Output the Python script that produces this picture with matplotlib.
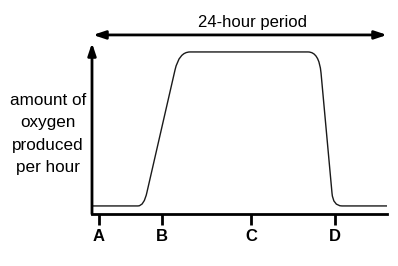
import matplotlib
matplotlib.use('Agg')
import matplotlib.pyplot as plt
from matplotlib.path import Path
from matplotlib.patches import PathPatch

plt.rcParams['font.family'] = ['Liberation Sans', 'DejaVu Sans']

# curve outline: hours vs oxygen (arbitrary units), with rounded corners
hours = [0, 3.73, 4.22, 4.46, 6.73, 7.06, 7.95, 17.52, 18.41, 18.57, 19.46, 19.54, 20.27, 23.92]
oxygen = [0.45, 0.45, 0.45, 1.23, 8.04, 9.05, 9.05, 9.05, 9.05, 7.88, 1.17, 0.45, 0.45, 0.45]
codes = [Path.MOVETO, Path.LINETO, Path.CURVE3, Path.CURVE3, Path.LINETO,
         Path.CURVE3, Path.CURVE3, Path.LINETO, Path.CURVE3, Path.CURVE3,
         Path.LINETO, Path.CURVE3, Path.CURVE3, Path.LINETO]

tick_pos = [0.57, 5.68, 12.9, 19.7]
tick_labels = ['A', 'B', 'C', 'D']

x_max = 23.92
y_max = 9.55
period_y = 10.0

fig = plt.figure(figsize=(3.98, 2.66), dpi=100)
ax = fig.add_axes([92/398, (266-214)/266, 295/398, (214-43)/266])
ax.set_xlim(0, x_max)
ax.set_ylim(0, y_max)

path = Path(list(zip(hours, oxygen)), codes)
ax.add_patch(PathPatch(path, facecolor='none', edgecolor='#1a1a1a', lw=1.0))

for s in ['top', 'right', 'left']:
    ax.spines[s].set_visible(False)
ax.spines['bottom'].set_linewidth(2)
ax.set_yticks([])
ax.set_xticks(tick_pos, tick_labels)
ax.tick_params(axis='x', length=8, width=2, pad=3, labelsize=12)
for lab in ax.get_xticklabels():
    lab.set_fontweight('bold')

head = '-|>,head_length=0.6,head_width=0.2'
ax.annotate('', xy=(0, y_max), xytext=(0, 0),
            arrowprops=dict(arrowstyle=head, lw=2, mutation_scale=12,
                            shrinkA=0, shrinkB=0, color='black'),
            annotation_clip=False)
ax.annotate('', xy=(x_max, period_y), xytext=(0.08, period_y),
            arrowprops=dict(arrowstyle='<|-|>,head_length=0.6,head_width=0.2', lw=2,
                            mutation_scale=12, shrinkA=0, shrinkB=0, color='black'),
            annotation_clip=False)
ax.text(13.0, 10.45, '24-hour period', ha='center', va='baseline', fontsize=12, clip_on=False)

fig.text(48/398, 1-134/266, 'amount of\noxygen\nproduced\nper hour',
         ha='center', va='center', linespacing=1.6, fontsize=12.3)

fig.savefig('out.png', dpi=100)
